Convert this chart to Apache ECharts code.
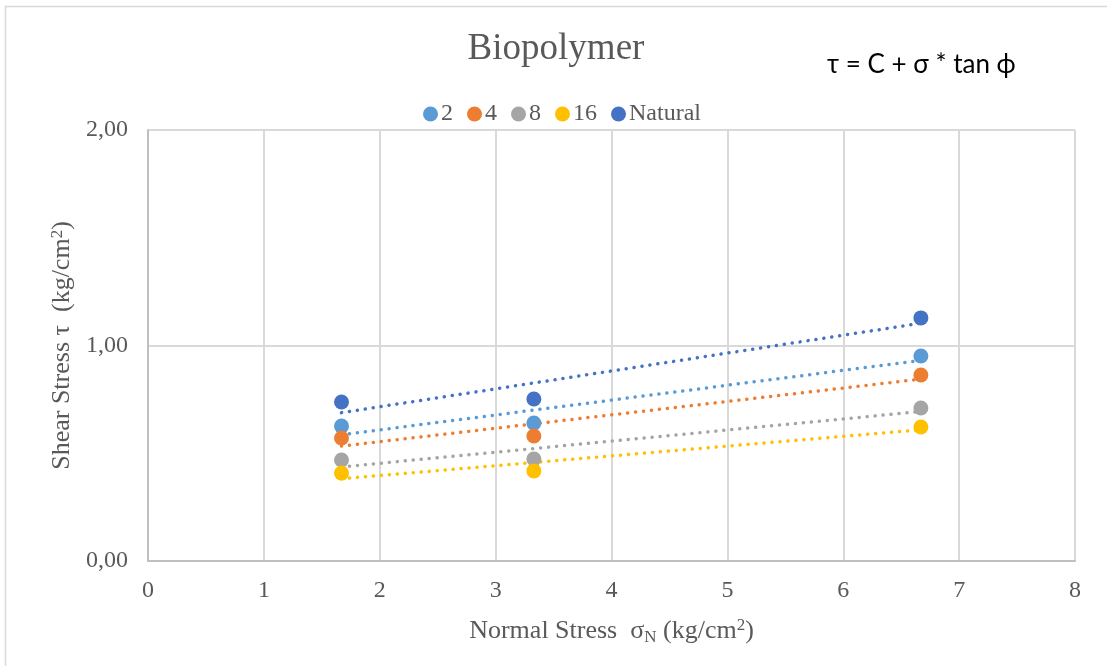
<!DOCTYPE html>
<html>
<head>
<meta charset="utf-8">
<script src="https://cdn.jsdelivr.net/npm/echarts@6/dist/echarts.min.js"></script>
<style>
  html, body { margin: 0; padding: 0; background: #fff; }
  #chart { width: 1107px; height: 666px; }
</style>
</head>
<body>
<div id="chart"></div>
<script>
// normal stress (kg/cm2) and shear stress per curing time
var normalStress = [1.67, 3.33, 6.67];
var s2 = [0.626, 0.640, 0.951];
var s4 = [0.571, 0.580, 0.863];
var s8 = [0.469, 0.473, 0.710];
var s16 = [0.408, 0.418, 0.622];
var natural = [0.738, 0.752, 1.128];

var names = ['2', '4', '8', '16', 'Natural'];
var colors = ['#5b9bd5', '#ed7d31', '#a5a5a5', '#ffc000', '#4472c4'];
var values = [s2, s4, s8, s16, natural];

var textColor = '#595959';
var serif = 'Liberation Serif';

function pairs(ys) {
    return normalStress.map(function (x, i) { return [x, ys[i]]; });
}

// linear trendline (least squares), drawn from min x to max x
function trend(ys) {
    var n = normalStress.length, mx = 0, my = 0;
    for (var i = 0; i < n; i++) { mx += normalStress[i]; my += ys[i]; }
    mx /= n; my /= n;
    var sxy = 0, sxx = 0;
    for (var j = 0; j < n; j++) {
        sxy += (normalStress[j] - mx) * (ys[j] - my);
        sxx += (normalStress[j] - mx) * (normalStress[j] - mx);
    }
    var b = sxy / sxx, a = my - b * mx;
    var x0 = Math.min.apply(null, normalStress), x1 = Math.max.apply(null, normalStress);
    return [[x0, a + b * x0], [x1, a + b * x1]];
}

var series = [];
names.forEach(function (name, i) {
    series.push({
        name: name + '_trend',
        type: 'line',
        data: trend(values[i]),
        showSymbol: false,
        silent: true,
        z: 1,
        lineStyle: { color: colors[i], width: 3.5, type: [0.1, 7.9], cap: 'round' }
    });
});
names.forEach(function (name, i) {
    series.push({
        name: name,
        type: 'scatter',
        data: pairs(values[i]),
        symbolSize: 15,
        z: 3,
        itemStyle: { color: colors[i], opacity: 1 }
    });
});

var chart = echarts.init(document.getElementById('chart'));

var option = {
    backgroundColor: '#fff',
    animation: false,
    color: colors,
    title: {
        text: 'Biopolymer',
        left: 551,
        textAlign: 'center',
        top: 26,
        textStyle: { fontFamily: serif, fontSize: 37, fontWeight: 'normal', color: textColor }
    },
    legend: {
        data: names,
        top: 97,
        left: 418,
        itemGap: 14,
        itemWidth: 15,
        itemHeight: 15,
        icon: 'circle',
        itemStyle: { opacity: 1 },
        textStyle: { fontFamily: serif, fontSize: 24, color: textColor, padding: [0, 0, 0, -2] }
    },
    graphic: [
        {
            type: 'rect',
            shape: { x: 5.5, y: 6.5, width: 1300, height: 900 },
            style: { fill: null, stroke: '#d9d9d9', lineWidth: 1.5 },
            silent: true
        },
        {
            type: 'text',
            left: 827,
            top: 52,
            style: {
                text: 'τ = C + σ * tan ϕ',
                font: '26px Lato',
                fill: '#000'
            }
        }
    ],
    grid: { left: 148, right: 32, top: 130, bottom: 105 },
    xAxis: {
        type: 'value',
        min: 0,
        max: 8,
        interval: 1,
        name: '{a|Normal Stress  σ}{sub|N}{a| (kg/cm}{sup|2}{a|)}',
        nameLocation: 'middle',
        nameGap: 56,
        nameTextStyle: {
            rich: {
                a: { fontFamily: serif, fontSize: 26, color: textColor },
                sub: { fontFamily: serif, fontSize: 17, color: textColor, verticalAlign: 'bottom', padding: [12, 0, 0, 0] },
                sup: { fontFamily: serif, fontSize: 17, color: textColor, verticalAlign: 'top', padding: [0, 0, 10, 0] }
            }
        },
        axisLine: { show: true, lineStyle: { color: '#bfbfbf', width: 2 } },
        axisTick: { show: false },
        axisLabel: { fontFamily: serif, fontSize: 24, color: textColor, margin: 18 },
        splitLine: { show: true, lineStyle: { color: '#d9d9d9', width: 2 } }
    },
    yAxis: {
        type: 'value',
        min: 0,
        max: 2,
        interval: 1,
        name: '{a|Shear Stress τ  (kg/cm}{sup|2}{a|)}',
        nameLocation: 'middle',
        nameRotate: 90,
        nameGap: 72,
        nameTextStyle: {
            rich: {
                a: { fontFamily: serif, fontSize: 26, color: textColor },
                sup: { fontFamily: serif, fontSize: 17, color: textColor, verticalAlign: 'top', padding: [0, 0, 10, 0] }
            }
        },
        axisLine: { show: true, lineStyle: { color: '#bfbfbf', width: 2 } },
        axisTick: { show: false },
        axisLabel: {
            fontFamily: serif, fontSize: 24, color: textColor, margin: 20,
            formatter: function (v) { return v.toFixed(2).replace('.', ','); }
        },
        splitLine: { show: true, lineStyle: { color: '#d9d9d9', width: 2 } }
    },
    series: series
};

chart.setOption(option);
window.addEventListener('resize', function () {
    chart.resize();
});
</script>
</body>
</html>
